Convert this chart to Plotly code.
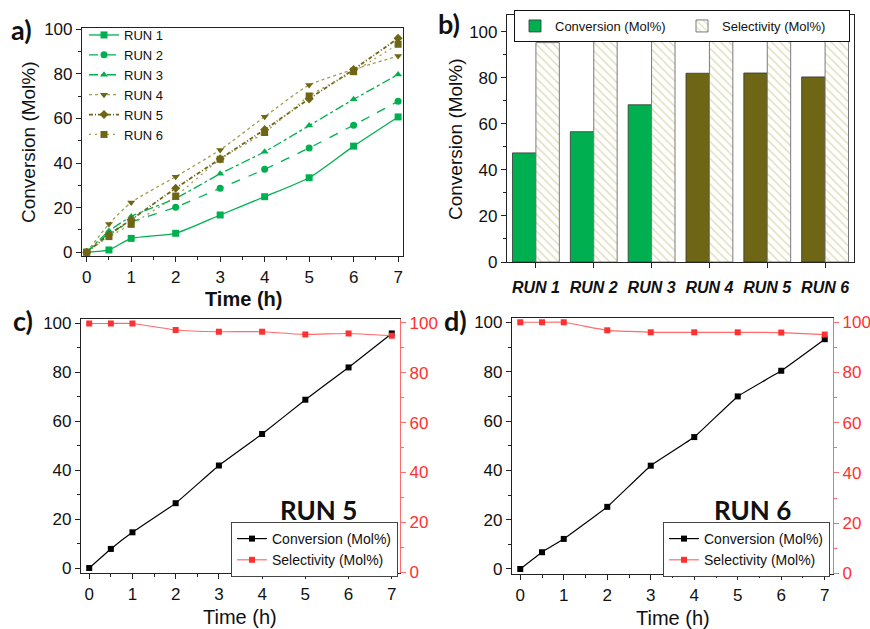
import plotly.graph_objects as go

# ---------------- data ----------------
time_h = [0, 0.5, 1, 2, 3, 4, 5, 6, 7]

run1 = [0, 1.0, 6.2, 8.5, 16.7, 24.9, 33.4, 47.6, 60.7]
run2 = [0, 8.5, 13.5, 20.2, 28.7, 37.2, 46.8, 57.0, 67.7]
run3 = [0, 9.5, 16.0, 24.2, 35.2, 45.1, 56.8, 68.6, 79.7]
run4 = [0, 12.7, 22.3, 33.9, 45.9, 60.8, 75.0, 82.0, 88.0]
run5 = [0, 7.8, 14.6, 28.7, 41.9, 55.0, 68.8, 82.0, 96.0]
run6 = [0, 7.0, 12.5, 25.2, 41.7, 53.7, 70.1, 81.0, 93.3]

runs = ["RUN 1", "RUN 2", "RUN 3", "RUN 4", "RUN 5", "RUN 6"]
bar_conversion = [47.4, 56.6, 68.3, 82.0, 82.1, 80.4]
bar_selectivity = [95.3, 96.9, 96.9, 96.1, 96.1, 95.8]

run5_conversion = [0, 7.8, 14.6, 26.5, 41.9, 54.8, 68.8, 82.0, 95.9]
run5_selectivity = [99.7, 99.7, 99.7, 97.1, 96.4, 96.4, 95.3, 95.7, 94.8]
run6_conversion = [0, 6.8, 12.2, 25.2, 41.9, 53.5, 70.0, 80.4, 93.2]
run6_selectivity = [100, 100, 100, 96.8, 96.0, 96.0, 96.0, 95.9, 95.1]

# ---------------- styling ----------------
W, H = 870, 629
GREEN = "#00b050"
OLIVE = "#6e6614"
OLIVE_LIGHT = "#a39c52"
RED = "#ff3030"
RED_LINE = "#ff6a6a"
FONT = "Liberation Sans"
LABEL_FONT = "Lato"


def px(x):
    return x / W


def py(y):
    return 1 - y / H


fig = go.Figure()

# ---- (a) conversion vs time for every run ----
line_specs = [
    ("RUN 1", run1, GREEN, GREEN, "solid", "square"),
    ("RUN 2", run2, GREEN, GREEN, "dash", "circle"),
    ("RUN 3", run3, GREEN, GREEN, "dashdot", "triangle-up"),
    ("RUN 4", run4, OLIVE_LIGHT, OLIVE, "dot", "triangle-down"),
    ("RUN 5", run5, OLIVE, OLIVE, "4px,2px,1px,2px", "diamond"),
    ("RUN 6", run6, OLIVE_LIGHT, OLIVE, "2px,4px", "square"),
]
for name, ys, lc, mc, dash, sym in line_specs:
    fig.add_trace(go.Scatter(
        x=time_h, y=ys, name=name, mode="lines+markers",
        line=dict(color=lc, width=1.3 if name != "RUN 5" else 1.8, dash=dash,
                  shape="spline", smoothing=0.6),
        marker=dict(symbol=sym, color=mc, size=7),
        xaxis="x", yaxis="y", legend="legend",
    ))

# ---- (b) conversion / selectivity bars ----
fig.add_trace(go.Bar(
    x=runs, y=bar_conversion, name="Conversion (Mol%)",
    marker=dict(color=[GREEN, GREEN, GREEN, OLIVE, OLIVE, OLIVE],
                line=dict(color="#333333", width=0.8)),
    xaxis="x2", yaxis="y2", legend="legend2",
))
fig.add_trace(go.Bar(
    x=runs, y=bar_selectivity, name="Selectivity (Mol%)",
    marker=dict(color="white",
                pattern=dict(shape="\\", fgcolor="#bfb974", bgcolor="white",
                             size=6, solidity=0.24),
                line=dict(color="#7a7a7a", width=1)),
    xaxis="x2", yaxis="y2", legend="legend2",
))

# ---- (c) RUN 5 and (d) RUN 6 time profiles ----
for conv, sel, xa, ya, ya2, lg in [
    (run5_conversion, run5_selectivity, "x3", "y3", "y4", "legend3"),
    (run6_conversion, run6_selectivity, "x4", "y5", "y6", "legend4"),
]:
    fig.add_trace(go.Scatter(
        x=time_h, y=conv, name="Conversion (Mol%)", mode="lines+markers",
        line=dict(color="black", width=1.2, shape="spline", smoothing=0.3),
        marker=dict(symbol="square", color="black", size=6),
        xaxis=xa, yaxis=ya, legend=lg,
    ))
    fig.add_trace(go.Scatter(
        x=time_h, y=sel, name="Selectivity (Mol%)", mode="lines+markers",
        line=dict(color=RED_LINE, width=1.2, shape="spline", smoothing=0.3),
        marker=dict(symbol="square", color=RED, size=6),
        xaxis=xa, yaxis=ya2, legend=lg,
    ))

# ---------------- axes ----------------
tickfont = dict(family=FONT, size=17, color="#111111")


def time_axis(domain, anchor, rng):
    return dict(domain=domain, anchor=anchor, range=rng, tick0=0, dtick=1,
                ticks="outside", ticklen=5, tickwidth=1, tickcolor="#222",
                minor=dict(dtick=0.5, ticks="outside", ticklen=3, tickcolor="#222"),
                showline=True, linecolor="#222", linewidth=1.2, mirror=True,
                showgrid=False, zeroline=False, tickfont=tickfont)


def value_axis(domain, anchor, rng, mirror=True, color="#222", side="left",
               overlaying=None, fcolor="#111111"):
    d = dict(domain=domain, anchor=anchor, range=rng, tick0=0, dtick=20,
             ticks="outside", ticklen=5, tickwidth=1, tickcolor=color,
             minor=dict(dtick=10, ticks="outside", ticklen=3, tickcolor=color),
             showline=True, linecolor=color, linewidth=1.2, mirror=mirror,
             showgrid=False, zeroline=False, side=side,
             tickfont=dict(family=FONT, size=17, color=fcolor))
    if overlaying:
        d["overlaying"] = overlaying
    return d


dom_a_x = [px(82), px(403)]
dom_a_y = [py(256), py(28)]
dom_b_x = [px(507), px(854)]
dom_b_y = [py(262), py(15)]
dom_c_x = [px(81), px(400)]
dom_c_y = [py(573), py(319)]
dom_d_x = [px(512), px(833)]
dom_d_y = [py(574), py(318)]

legend_font = dict(family=FONT, size=14, color="#111111")

layout = dict(
    width=W, height=H,
    margin=dict(l=0, r=0, t=0, b=0, autoexpand=False),
    paper_bgcolor="white", plot_bgcolor="white",
    font=dict(family=FONT, color="#111111"),
    barmode="group", bargap=0.19, bargroupgap=0,
    xaxis=time_axis(dom_a_x, "y", [-0.106, 7.11]),
    yaxis=value_axis(dom_a_y, "x", [-1.7, 100.6]),
    xaxis2=dict(domain=dom_b_x, anchor="y2", range=[-0.5, 5.5], type="category",
                ticks="outside", ticklen=5, tickcolor="#222", showline=True,
                linecolor="#222", linewidth=1.2, mirror=True, showgrid=False,
                ticklabelstandoff=6,
                tickfont=dict(family=FONT, size=16, color="#111",
                              weight="bold", style="italic")),
    yaxis2=value_axis(dom_b_y, "x2", [0, 107.3]),
    xaxis3=time_axis(dom_c_x, "y3", [-0.19, 7.19]),
    yaxis3=value_axis(dom_c_y, "x3", [-2.04, 101.8], mirror=False),
    yaxis4=value_axis(dom_c_y, "x3", [-0.27, 101.5], mirror=False, color=RED_LINE,
                      side="right", overlaying="y3", fcolor=RED),
    xaxis4=time_axis(dom_d_x, "y5", [-0.19, 7.19]),
    yaxis5=value_axis(dom_d_y, "x4", [-2.03, 101.8], mirror=False),
    yaxis6=value_axis(dom_d_y, "x4", [-0.27, 101.7], mirror=False, color=RED_LINE,
                      side="right", overlaying="y5", fcolor=RED),
    legend=dict(x=px(84), y=py(20), xanchor="left", yanchor="top",
                bgcolor="rgba(0,0,0,0)", font=dict(family=FONT, size=13),
                tracegroupgap=0, itemwidth=30),
    legend2=dict(orientation="h", x=px(514), y=py(10), xanchor="left",
                 yanchor="top", bgcolor="white", bordercolor="#111",
                 borderwidth=1, font=dict(family=FONT, size=13, color="#111111"),
                 entrywidth=122),
    legend3=dict(x=px(231), y=py(522), xanchor="left", yanchor="top",
                 bgcolor="white", bordercolor="#444", borderwidth=1,
                 font=legend_font),
    legend4=dict(x=px(663), y=py(522), xanchor="left", yanchor="top",
                 bgcolor="white", bordercolor="#444", borderwidth=1,
                 font=legend_font),
)
fig.update_layout(**layout)


def note(text, x, y, size, family=FONT, bold=False, angle=0, xanchor="center",
         color="#111111"):
    fig.add_annotation(
        text=f"<b>{text}</b>" if bold else text, x=px(x), y=py(y),
        xref="paper", yref="paper", showarrow=False, textangle=angle,
        xanchor=xanchor, yanchor="middle",
        font=dict(family=family, size=size, color=color))


# panel letters
note("a)", 9, 30, 27, LABEL_FONT, bold=True, xanchor="left")
note("b)", 436, 24, 27, LABEL_FONT, bold=True, xanchor="left")
note("c)", 11, 320, 27, LABEL_FONT, bold=True, xanchor="left")
note("d)", 442, 320, 27, LABEL_FONT, bold=True, xanchor="left")

# axis titles
note("Conversion (Mol%)", 28, 142, 19, angle=-90)
note("Conversion (Mol%)", 455, 139, 19, angle=-90)
note("Time (h)", 243, 299, 20, bold=True)
note("Time (h)", 240, 617, 20)
note("Time (h)", 673, 618, 20)

# run names in (c) and (d)
note("RUN 5", 318, 510, 26, LABEL_FONT, bold=True)
note("RUN 6", 752, 510, 26, LABEL_FONT, bold=True)

fig.write_html("out.html")
